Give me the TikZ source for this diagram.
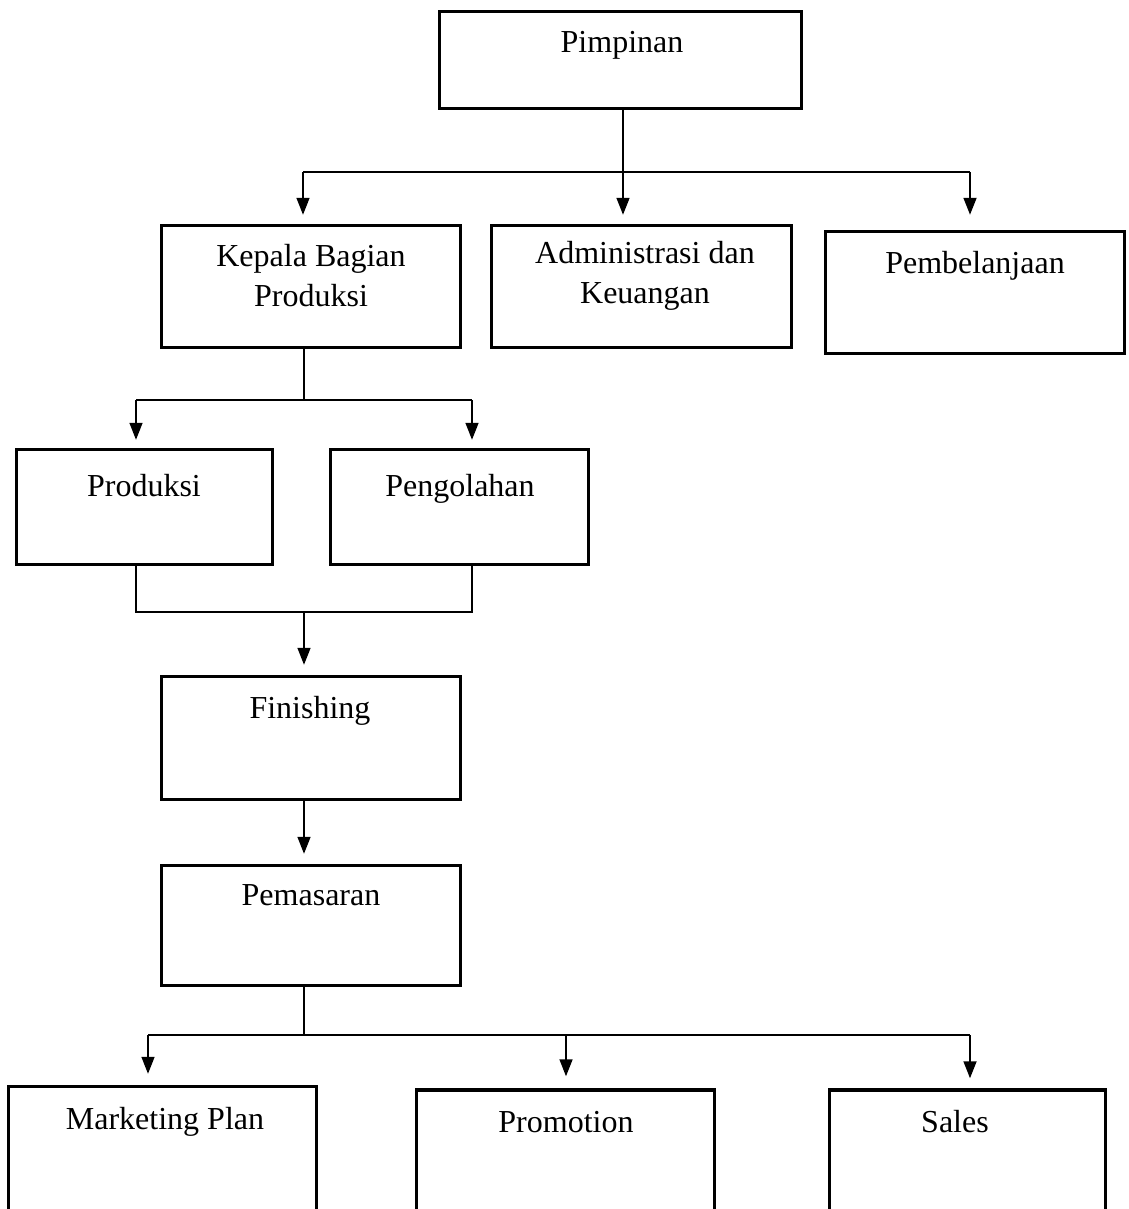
\documentclass[tikz,border=0pt]{standalone}
\usepackage{fontspec}
\setmainfont{Liberation Serif}
\usetikzlibrary{arrows.meta}
\begin{document}
\begin{tikzpicture}[x=1pt,y=-1pt,
 box/.style={draw, line width=3.5pt, rectangle, inner sep=0pt},
 lbl/.style={font=\fontsize{32}{40}\selectfont, align=center, inner sep=0pt},
 conn/.style={line width=1.7pt},
 arr/.style={conn, -{Triangle[length=17pt,width=13pt]}}]
\useasboundingbox (0,0) rectangle (1128,1209);
\clip (0,0) rectangle (1128,1209);
% boxes
\node[box, minimum width=362pt, minimum height=97pt] (pimp) at (620.5,60) {};
\node[box, minimum width=299pt, minimum height=122pt] (kep) at (311,286.5) {};
\node[box, minimum width=300pt, minimum height=122pt] (adm) at (641.5,286.5) {};
\node[box, minimum width=299pt, minimum height=122pt] (pem) at (975,292.5) {};
\node[box, minimum width=256pt, minimum height=115pt] (prod) at (144.5,507) {};
\node[box, minimum width=258pt, minimum height=115pt] (peng) at (459.5,507) {};
\node[box, minimum width=299pt, minimum height=123pt] (fin) at (311,738) {};
\node[box, minimum width=299pt, minimum height=120pt] (pms) at (311,925.5) {};
\node[box, minimum width=308pt, minimum height=175pt] (mkt) at (162.5,1174) {};
\node[box, minimum width=298pt, minimum height=172pt] (pro) at (565.5,1176) {};
\node[box, minimum width=276pt, minimum height=172pt] (sal) at (967.5,1176) {};
% texts
\node[lbl, anchor=base] (tpimp) at (622,53) {Pimpinan};
\node[lbl] (tkep) at (311,276) {Kepala Bagian\\Produksi};
\node[lbl] (tadm) at (645,276) {Administrasi dan\\Keuangan};
\node[lbl, anchor=base] (tpem) at (975,273) {Pembelanjaan};
\node[lbl, anchor=base] (tprod) at (144,496) {Produksi};
\node[lbl, anchor=base] (tpeng) at (460,496) {Pengolahan};
\node[lbl, anchor=base] (tfin) at (310,718) {Finishing};
\node[lbl, anchor=base] (tpms) at (311,905) {Pemasaran};
\node[lbl, anchor=base] (tmkt) at (165,1129) {Marketing Plan};
\node[lbl, anchor=base] (tpro) at (566,1132) {Promotion};
\node[lbl, anchor=base] (tsal) at (955,1132) {Sales};
% junctions
\coordinate (j1) at (623,172);
\coordinate (j1l) at (303,172);
\coordinate (j1r) at (970,172);
\coordinate (j2) at (304,400);
\coordinate (j2l) at (136,400);
\coordinate (j2r) at (472,400);
\coordinate (j3l) at (136,612);
\coordinate (j3) at (304,612);
\coordinate (j3r) at (472,612);
\coordinate (j4) at (304,1035);
\coordinate (j4l) at (148,1035);
\coordinate (j4m) at (566,1035);
\coordinate (j4r) at (970,1035);
% connectors level 1
\draw[conn] (j1 |- pimp.south) -- (j1);
\draw[conn] (j1l) -- (j1r);
\draw[arr, shorten >=9pt] (j1l) -- (j1l |- kep.north);
\draw[arr, shorten >=9pt] (j1) -- (j1 |- adm.north);
\draw[arr, shorten >=15pt] (j1r) -- (j1r |- pem.north);
% level 2
\draw[conn] (j2 |- kep.south) -- (j2);
\draw[conn] (j2l) -- (j2r);
\draw[arr, shorten >=8pt] (j2l) -- (j2l |- prod.north);
\draw[arr, shorten >=8pt] (j2r) -- (j2r |- peng.north);
% level 3
\draw[conn] (j3l |- prod.south) -- (j3l) -- (j3r) -- (j3r |- peng.south);
\draw[arr, shorten >=10pt] (j3) -- (j3 |- fin.north);
% level 4
\draw[arr, shorten >=10pt] (j3 |- fin.south) -- (j3 |- pms.north);
% level 5
\draw[conn] (j4 |- pms.south) -- (j4);
\draw[conn] (j4l) -- (j4r);
\draw[arr, shorten >=11pt] (j4l) -- (j4l |- mkt.north);
\draw[arr, shorten >=12pt] (j4m) -- (j4m |- pro.north);
\draw[arr, shorten >=10pt] (j4r) -- (j4r |- sal.north);
\end{tikzpicture}
\end{document}
